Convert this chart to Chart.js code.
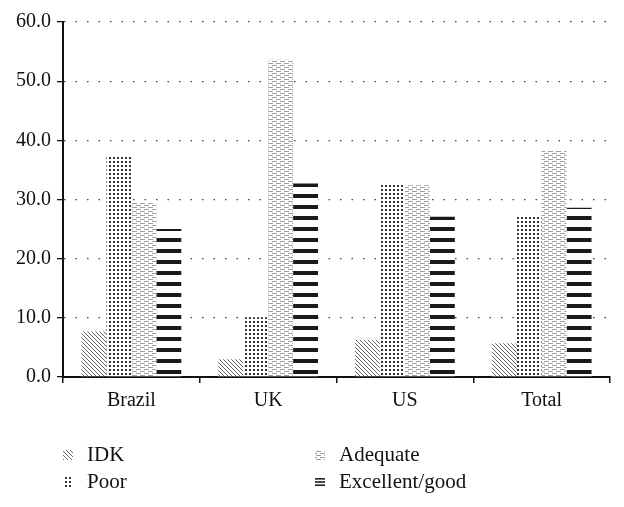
<!DOCTYPE html>
<html lang="en">
<head>
    <meta charset="UTF-8">
    <title>Rating by country</title>
    <script src="https://cdn.jsdelivr.net/npm/chart.js@4.4.0/dist/chart.umd.min.js"></script>
    <style>
        body { margin: 0; background: #fff; }
    </style>
</head>
<body>
    <canvas id="ratingChart" width="624" height="507"></canvas>

    <script>
        const countries = ['Brazil', 'UK', 'US', 'Total'];
        const idkValues = [7.7, 3.0, 6.3, 5.7];
        const poorValues = [37.2, 10.1, 32.6, 27.1];
        const adequateValues = [29.4, 53.6, 32.4, 38.2];
        const excellentValues = [25.0, 32.7, 27.1, 28.6];
        const yTicks = [0, 10, 20, 30, 40, 50, 60];

        const FONT = '"Liberation Serif", "Times New Roman", serif';

        // small tiles used as fill patterns (the original is black & white)
        function makePattern(w, h, draw) {
            const c = document.createElement('canvas');
            c.width = w;
            c.height = h;
            const g = c.getContext('2d');
            g.fillStyle = '#fff';
            g.fillRect(0, 0, w, h);
            draw(g);
            return document.getElementById('ratingChart').getContext('2d').createPattern(c, 'repeat');
        }

        const idkFill = makePattern(4, 4, g => {
            g.strokeStyle = '#666';
            g.lineWidth = 1;
            g.beginPath();
            g.moveTo(-1, -1); g.lineTo(5, 5);
            g.moveTo(-1, 3); g.lineTo(1, 5);
            g.moveTo(3, -1); g.lineTo(5, 1);
            g.stroke();
        });
        const poorFill = makePattern(4, 4, g => {
            g.fillStyle = '#333';
            g.fillRect(1, 1, 2, 2);
        });
        const adequateFill = makePattern(8, 4, g => {
            g.fillStyle = '#a0a0a0';
            g.fillRect(0, 1, 5, 1);
            g.fillRect(4, 3, 5, 1);
            g.fillRect(0, 3, 1, 1);
        });
        const excellentFill = makePattern(4, 11, g => {
            g.fillStyle = '#1a1a1a';
            g.fillRect(0, 7, 4, 4);
        });

        const seriesLabels = ['IDK', 'Poor', 'Adequate', 'Excellent/good'];

        // legend drawn in two columns like the original figure
        const twoColumnLegend = {
            id: 'twoColumnLegend',
            afterDraw(chart) {
                const ctx = chart.ctx;
                const spots = [[63, 455], [63, 482], [315, 455], [315, 482]];
                ctx.save();
                ctx.font = '21px ' + FONT;
                ctx.textBaseline = 'middle';
                chart.data.datasets.forEach((ds, i) => {
                    const [x, y] = spots[i];
                    if (i === 3) {
                        ctx.fillStyle = '#222';
                        ctx.fillRect(x, y - 4, 10, 1.6);
                        ctx.fillRect(x, y - 0.8, 10, 1.6);
                        ctx.fillRect(x, y + 2.4, 10, 1.6);
                    } else {
                        ctx.fillStyle = ds.backgroundColor;
                        ctx.fillRect(x, y - 5, 10, 10);
                    }
                    ctx.fillStyle = '#111';
                    ctx.fillText(ds.label, x + 24, y);
                });
                ctx.restore();
            }
        };

        new Chart(document.getElementById('ratingChart'), {
            type: 'bar',
            data: {
                labels: countries,
                datasets: [
                    { label: seriesLabels[0], data: idkValues, backgroundColor: idkFill },
                    { label: seriesLabels[1], data: poorValues, backgroundColor: poorFill },
                    { label: seriesLabels[2], data: adequateValues, backgroundColor: adequateFill },
                    { label: seriesLabels[3], data: excellentValues, backgroundColor: excellentFill }
                ]
            },
            options: {
                responsive: false,
                animation: false,
                datasets: {
                    bar: { categoryPercentage: 0.73, barPercentage: 1.0 }
                },
                layout: {
                    padding: { top: 22, right: 14, bottom: 88, left: 10 }
                },
                plugins: {
                    legend: { display: false },
                    tooltip: { enabled: false }
                },
                scales: {
                    x: {
                        grid: {
                            offset: true,
                            drawOnChartArea: false,
                            color: '#111',
                            lineWidth: 1.5,
                            tickLength: 6
                        },
                        border: { color: '#111', width: 2 },
                        ticks: {
                            color: '#111',
                            padding: 6,
                            font: { family: FONT, size: 20 }
                        }
                    },
                    y: {
                        min: yTicks[0],
                        max: yTicks[yTicks.length - 1],
                        afterBuildTicks: axis => {
                            axis.ticks = yTicks.map(v => ({ value: v }));
                        },
                        grid: {
                            color: '#444',
                            lineWidth: 1.3,
                            tickBorderDash: [],
                            tickColor: '#111',
                            tickLength: 6
                        },
                        border: { color: '#111', width: 2, dash: [1.5, 10] },
                        ticks: {
                            color: '#111',
                            padding: 6,
                            font: { family: FONT, size: 20 },
                            callback: v => Number(v).toFixed(1)
                        }
                    }
                }
            },
            plugins: [twoColumnLegend]
        });
    </script>
</body>
</html>
